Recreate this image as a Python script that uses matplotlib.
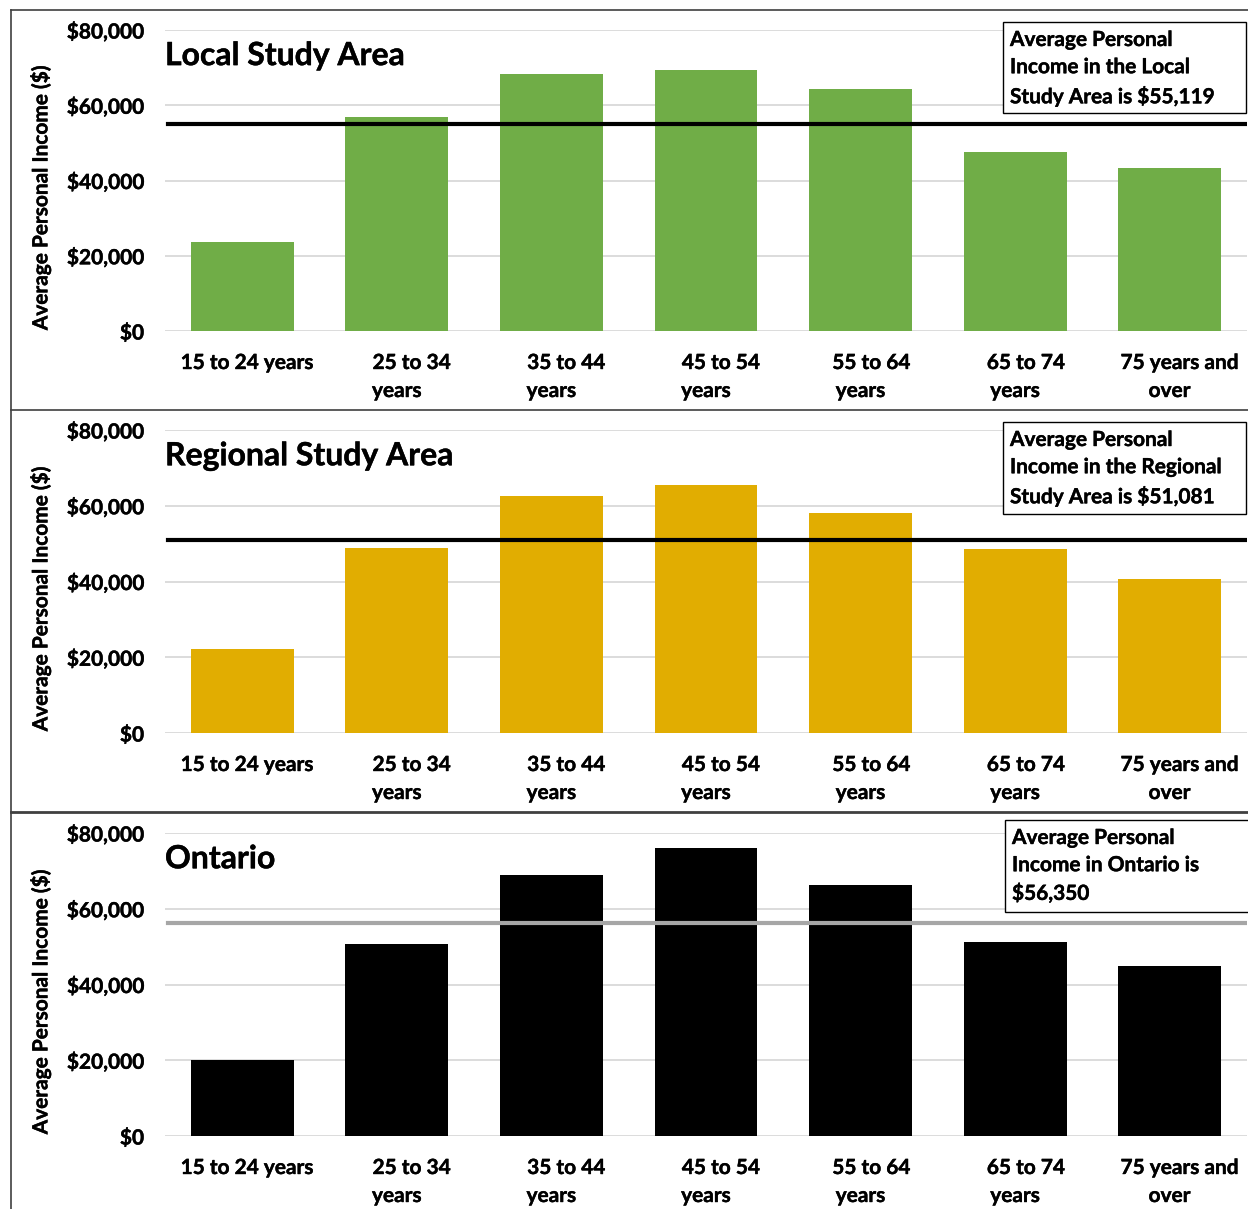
import matplotlib
matplotlib.use("Agg")
import matplotlib.pyplot as plt
import matplotlib.patheffects as pe
import matplotlib.transforms as mtransforms
from matplotlib.lines import Line2D
from matplotlib.ticker import FuncFormatter

# Age groups shown on every panel
categories = ["15 to 24 years", "25 to 34\nyears", "35 to 44\nyears", "45 to 54\nyears",
              "55 to 64\nyears", "65 to 74\nyears", "75 years and\nover"]

# Average personal income by age group ($)
local_income = [23650, 56750, 68300, 69350, 64200, 47700, 43300]
regional_income = [22200, 48850, 62600, 65500, 58100, 48600, 40550]
ontario_income = [20050, 50700, 68900, 76050, 66250, 51200, 44900]

# Overall averages drawn as horizontal reference lines
local_avg = 55119
regional_avg = 51081
ontario_avg = 56350

panel_titles = ["Local Study Area", "Regional Study Area", "Ontario"]
note_texts = ["Average Personal\nIncome in the Local\nStudy Area is $55,119",
              "Average Personal\nIncome in the Regional\nStudy Area is $51,081",
              "Average Personal\nIncome in Ontario is\n$56,350"]
y_ticks = [0, 20000, 40000, 60000, 80000]
y_label = "Average Personal Income ($)"

W, H = 1248, 1209
FONT = "Lato"
# thin outline so the bold text reads a touch heavier
HEAVY = [pe.withStroke(linewidth=0.3, foreground="black")]
# horizontal nudge (px) of the first line of each category label
first_line_shift = [5, 15, 15, 15, 11, 11, 10]

fig = plt.figure(figsize=(W / 100, H / 100), dpi=100)
fig.patch.set_facecolor("white")


def fx(px):
    return px / W


def fy(py):
    return 1 - py / H


panels = [
    dict(values=local_income, avg=local_avg, color="#70AD47", avg_color="#000000",
         y0=331, y80=30, note_box=(1003, 22, 1246, 113)),
    dict(values=regional_income, avg=regional_avg, color="#E1AD01", avg_color="#000000",
         y0=733, y80=430, note_box=(1003, 422, 1246, 514)),
    dict(values=ontario_income, avg=ontario_avg, color="#000000", avg_color="#A6A6A6",
         y0=1136, y80=833, note_box=(1005, 820, 1250, 912)),
]

left_px, right_px = 165, 1247
money = FuncFormatter(lambda v, _: "${:,.0f}".format(v))
text_kw = dict(fontsize=15, fontweight="bold", family=FONT, path_effects=HEAVY)

for i, p in enumerate(panels):
    ax = fig.add_axes([fx(left_px), fy(p["y0"]), fx(right_px - left_px),
                       (p["y0"] - p["y80"]) / H])
    x = list(range(len(categories)))
    ax.bar(x, p["values"], width=0.665, color=p["color"], zorder=2)
    ax.set_xlim(-0.5, len(categories) - 0.5)
    ax.set_ylim(0, 80000)
    ax.set_yticks(y_ticks)
    ax.yaxis.set_major_formatter(money)
    ax.set_xticks(x)
    ax.set_xticklabels([])
    for lab in ax.get_yticklabels():
        lab.set_fontsize(15)
        lab.set_fontweight("bold")
        lab.set_family(FONT)
        lab.set_path_effects(HEAVY)
    ax.tick_params(axis="both", length=0)
    ax.tick_params(axis="y", pad=15)
    ax.grid(axis="y", color="#D9D9D9", lw=1.3, zorder=0)
    for s in ax.spines.values():
        s.set_visible(False)

    # Category labels under each bar, one text per line
    base = mtransforms.blended_transform_factory(ax.transData, ax.transAxes)
    for xi, cat, shift in zip(x, categories, first_line_shift):
        for k, line in enumerate(cat.split("\n")):
            dx = shift if k == 0 else 0
            dy = 38 + 28 * k
            off = mtransforms.ScaledTranslation(dx / 100, -dy / 100, fig.dpi_scale_trans)
            ax.text(xi, 0, line, transform=base + off, ha="center", va="baseline",
                    clip_on=False, **text_kw)

    ax.set_ylabel(y_label, labelpad=0, **text_kw)
    ax.yaxis.set_label_coords(-0.105, 0.445)

    # Overall average line
    ax.axhline(p["avg"], xmin=0.003, xmax=1.0, color=p["avg_color"], lw=3, zorder=3)

    # Panel title
    ax.text(0.0, 0.915, panel_titles[i], transform=ax.transAxes, fontsize=23,
            fontweight="bold", family=FONT, ha="left", va="center", zorder=4,
            path_effects=HEAVY)

    # Note box with the overall average
    bx0, by0, bx1, by1 = p["note_box"]
    fig.patches.append(plt.Rectangle((fx(bx0), fy(by1)), fx(bx1 - bx0), (by1 - by0) / H,
                                     transform=fig.transFigure, facecolor="white",
                                     edgecolor="#000000", lw=1.0, zorder=5))
    fig.text(fx(bx0 + 7), fy(by0 + 8), note_texts[i], ha="left", va="top",
             linespacing=1.45, zorder=6, **text_kw)

# Panel frames
for ypx, col, lw in [(10, "#404040", 1.2), (410, "#404040", 1.2), (812, "#404040", 2.0)]:
    fig.add_artist(Line2D([fx(11), 1.0], [fy(ypx), fy(ypx)], color=col, lw=lw,
                          transform=fig.transFigure))
fig.add_artist(Line2D([fx(11), fx(11)], [fy(10), 0.0], color="#404040", lw=1.2,
                      transform=fig.transFigure))

fig.savefig("out.png", dpi=100, facecolor="white")
